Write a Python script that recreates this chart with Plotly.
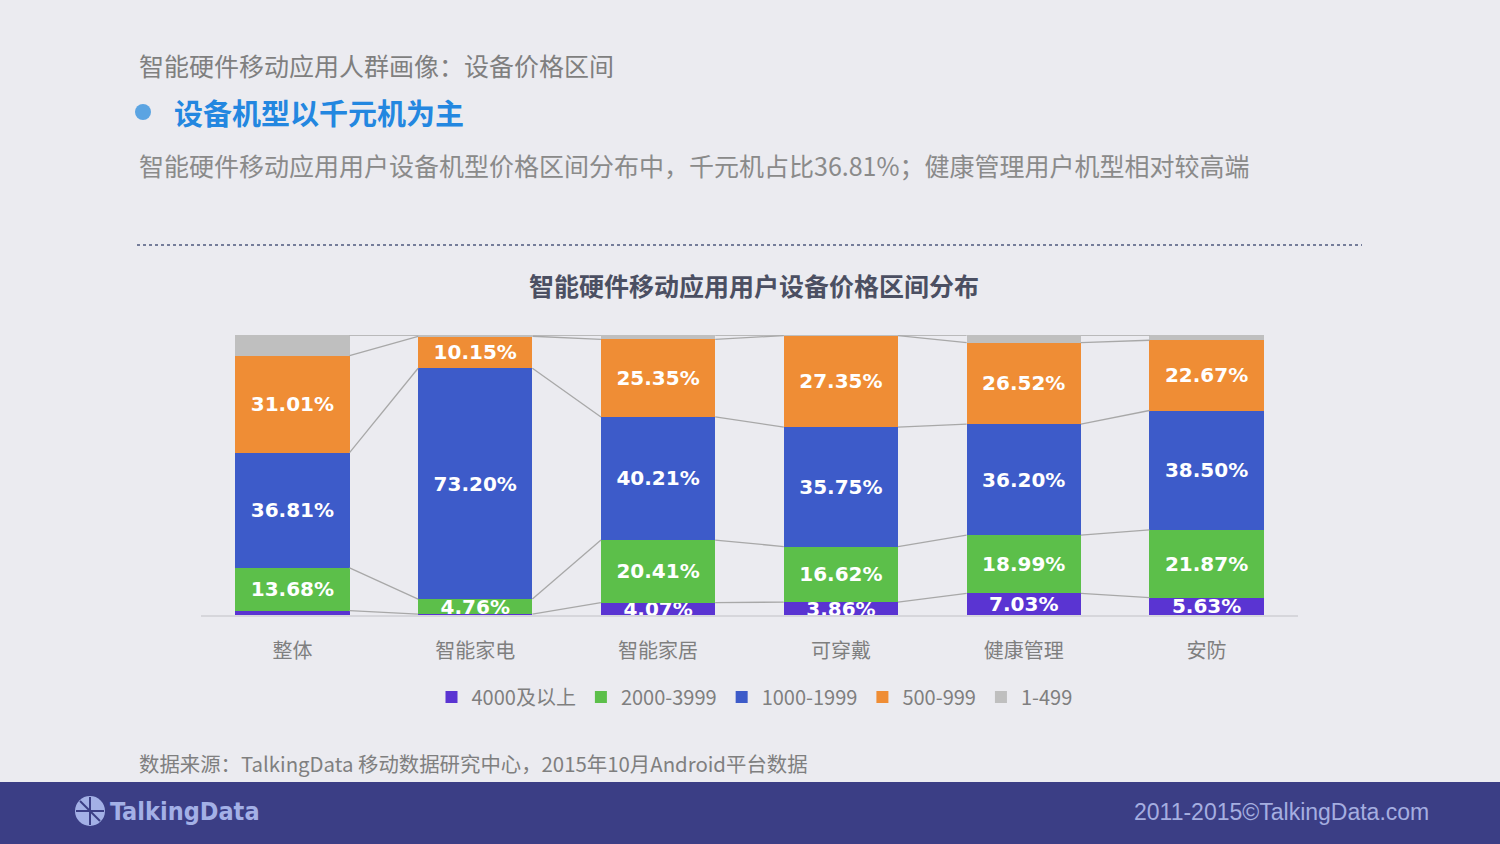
import plotly.graph_objects as go

# ---------------- data ----------------
categories = ["整体", "智能家电", "智能家居", "可穿戴", "健康管理", "安防"]
series_names = ["4000及以上", "2000-3999", "1000-1999", "500-999", "1-499"]
v_4000_plus = [1.37, 0.30, 4.07, 3.86, 7.03, 5.63]
v_2000_3999 = [13.68, 4.76, 20.41, 16.62, 18.99, 21.87]
v_1000_1999 = [36.81, 73.20, 40.21, 35.75, 36.20, 38.50]
v_500_999 = [31.01, 10.15, 25.35, 27.35, 26.52, 22.67]
v_1_499 = [6.60, 0.40, 1.40, 0.20, 2.50, 1.70]
# labels shown on the chart (blank where the reference shows none)
show_4000_label = [False, False, True, True, True, True]

colors = ["#5a34d2", "#5cbf4a", "#3d5bc9", "#ef8d35", "#bfbfbf"]
all_series = [v_4000_plus, v_2000_3999, v_1000_1999, v_500_999, v_1_499]

W, H = 1500, 844
def px(x):
    return x / W
def py(y):
    return 1 - y / H

FONT_CJK = "Noto Sans CJK SC"
BAR_W = 0.625

fig = go.Figure()

xs = list(range(len(categories)))

for k, (name, vals, col) in enumerate(zip(series_names, all_series, colors)):
    if k == 4:
        txt = ["" for _ in vals]
    elif k == 0:
        txt = [f"{v:.2f}%" if s else "" for v, s in zip(vals, show_4000_label)]
    else:
        txt = [f"{v:.2f}%" for v in vals]
    fig.add_trace(go.Bar(
        x=xs, y=vals, name=name, marker=dict(color=col, line=dict(width=0)),
        width=BAR_W, text=txt, textposition="inside", insidetextanchor="middle",
        textangle=0, constraintext="none",
        textfont=dict(family="DejaVu Sans", size=20, color="white", weight="bold"),
        hoverinfo="skip",
    ))

# connector lines between stacked segment boundaries (normalized cumulative)
totals = [sum(s[i] for s in all_series) for i in range(len(categories))]
cum = [0.0] * len(categories)
for k, vals in enumerate(all_series):
    cum = [c + v for c, v in zip(cum, vals)]
    level = [100 * c / t for c, t in zip(cum, totals)]
    lx, ly = [], []
    for i in range(len(categories) - 1):
        lx += [i + BAR_W / 2, i + 1 - BAR_W / 2, None]
        ly += [level[i], level[i + 1], None]
    fig.add_trace(go.Scatter(x=lx, y=ly, mode="lines",
                             line=dict(color="#a8a8a8", width=1.3),
                             showlegend=False, hoverinfo="skip"))

fig.update_layout(
    width=W, height=H,
    barmode="stack", barnorm="percent",
    paper_bgcolor="#ebebf0", plot_bgcolor="rgba(0,0,0,0)",
    margin=dict(l=0, r=0, t=0, b=0),
    showlegend=True,
    legend=dict(orientation="h", x=0.503, xanchor="center", y=py(697), yanchor="middle",
                traceorder="normal", font=dict(family=FONT_CJK, size=20, color="#7f7f7f"),
                bgcolor="rgba(0,0,0,0)", itemwidth=30),
    uniformtext=dict(mode="show", minsize=20),
    xaxis=dict(domain=[px(201), px(1298)], range=[-0.5, 5.5],
               tickvals=xs, ticktext=categories, showgrid=False, zeroline=False,
               showline=True, linecolor="#d6d6db", linewidth=1.5,
               ticks="outside", ticklen=17, tickcolor="rgba(0,0,0,0)",
               tickfont=dict(family=FONT_CJK, size=20, color="#7f7f7f")),
    yaxis=dict(domain=[py(615), py(335)], range=[0, 100], visible=False),
)

shapes = [
    # footer band
    dict(type="rect", xref="paper", yref="paper", x0=0, x1=1, y0=0, y1=py(782),
         fillcolor="#3b3e85", line=dict(width=0), layer="below"),
    # dotted separator
    dict(type="line", xref="paper", yref="paper", x0=px(137), x1=px(1362), y0=py(245), y1=py(245),
         line=dict(color="#4f5a7e", width=1.5, dash="dot")),
    # bullet
    dict(type="circle", xref="paper", yref="paper", x0=px(135), x1=px(151), y0=py(120), y1=py(104),
         fillcolor="#5ba4e2", line=dict(width=0)),
    # logo icon
    dict(type="circle", xref="paper", yref="paper", x0=px(75), x1=px(105), y0=py(826), y1=py(796),
         fillcolor="#a3b0e6", line=dict(width=0)),
    dict(type="line", xref="paper", yref="paper", x0=px(90), x1=px(90), y0=py(797), y1=py(825),
         line=dict(color="#3b3e85", width=2)),
    dict(type="line", xref="paper", yref="paper", x0=px(76), x1=px(104), y0=py(811), y1=py(811),
         line=dict(color="#3b3e85", width=2)),
    dict(type="line", xref="paper", yref="paper", x0=px(80), x1=px(100), y0=py(801), y1=py(821),
         line=dict(color="#3b3e85", width=2)),
]
fig.update_layout(shapes=shapes)

ann = [
    dict(text="智能硬件移动应用人群画像：设备价格区间", x=px(137), y=py(65), xanchor="left",
         font=dict(family=FONT_CJK, size=25, color="#7f7f7f")),
    dict(text="<b>设备机型以千元机为主</b>", x=px(172), y=py(112), xanchor="left",
         font=dict(family=FONT_CJK, size=29, color="#2387e0")),
    dict(text="智能硬件移动应用用户设备机型价格区间分布中，千元机占比36.81%；健康管理用户机型相对较高端",
         x=px(137), y=py(165), xanchor="left",
         font=dict(family=FONT_CJK, size=25, color="#8a8a8a")),
    dict(text="<b>智能硬件移动应用用户设备价格区间分布</b>", x=px(754), y=py(285), xanchor="center",
         font=dict(family=FONT_CJK, size=25, color="#4b4f62")),
    dict(text="数据来源：TalkingData 移动数据研究中心，2015年10月Android平台数据",
         x=px(137), y=py(763), xanchor="left",
         font=dict(family=FONT_CJK, size=20.4, color="#7f7f7f")),
    dict(text="<b>TalkingData</b>", x=px(108), y=py(811), xanchor="left",
         font=dict(family="DejaVu Sans Condensed, Liberation Sans Narrow", size=25, color="#a3b0e6")),
    dict(text="2011-2015©TalkingData.com", x=px(1431), y=py(812), xanchor="right",
         font=dict(family="Liberation Sans, Arial", size=23, color="#a5aee0")),
]
for a in ann:
    a.update(xref="paper", yref="paper", yanchor="middle", showarrow=False)
fig.update_layout(annotations=ann)

fig.write_html("out.html", config={"displayModeBar": False},
               post_script="document.body.style.margin='0';")
